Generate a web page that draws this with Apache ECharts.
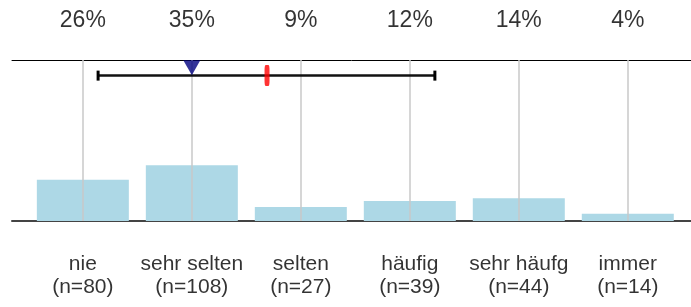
<!DOCTYPE html>
<html>
<head>
<meta charset="utf-8">
<script src="https://cdn.jsdelivr.net/npm/echarts@6/dist/echarts.min.js"></script>
<style>
    html, body { margin: 0; padding: 0; background: #fff; }
    #chart { width: 691px; height: 307px; }
</style>
</head>
<body>
<div id="chart"></div>
<script>
// ---
// data
// ---
var categories = ['nie', 'sehr selten', 'selten', 'häufig', 'sehr häufg', 'immer'];
var counts = [80, 108, 27, 39, 44, 14];
var percentLabels = ['26%', '35%', '9%', '12%', '14%', '4%'];
var shares = [25.6, 34.6, 8.7, 12.5, 14.1, 4.5];   // bar heights, % of all answers
var scalePoints = [1, 2, 3, 4, 5, 6];
var median = 2;
var mean = 2.69;
var sdLow = 1.14;
var sdHigh = 4.23;

// height on the 0..100 scale where the whisker / markers sit
var whiskerLevel = 90.3;
var medianLevel = 95.2;

var font = 'Liberation Sans, Arial, sans-serif';

var chart = echarts.init(document.getElementById('chart'));

var barData = scalePoints.map(function (x, i) {
    return [x, shares[i]];
});
var bottomLabels = categories.map(function (c, i) {
    return c + '\n(n=' + counts[i] + ')';
});

chart.setOption({
    animation: false,
    grid: [
        // scale 0.35..6.58, ticks 1..6 sit on the grey lines
        {left: 12, right: 0, top: 60, bottom: 86}
    ],
    xAxis: [
        {
            type: 'value', min: 0.35, max: 6.58,
            axisLine: {show: true, onZero: false, lineStyle: {color: '#444', width: 2}},
            axisTick: {show: false}, axisLabel: {show: false}, splitLine: {show: false}
        },
        {
            type: 'value', position: 'top', min: 0.35, max: 6.58,
            axisLine: {show: true, onZero: false, lineStyle: {color: '#000', width: 1}},
            axisTick: {show: false}, axisLabel: {show: false}, splitLine: {show: false}
        }
    ],
    yAxis: [
        {type: 'value', min: 0, max: 100, show: false}
    ],
    series: [
        {
            type: 'bar',
            barWidth: 92,
            itemStyle: {color: '#add8e6'},
            data: barData,
            markLine: {
                silent: true, symbol: 'none',
                label: {show: false},
                lineStyle: {color: '#c8c8c8', width: 1.5, type: 'solid'},
                data: scalePoints.map(function (x) { return {xAxis: x}; })
            }
        },
        {
            // text rows: percentages above, category + n below
            type: 'scatter', symbolSize: 0, silent: true,
            data: scalePoints.map(function (x) { return [x, 100]; }),
            label: {
                show: true, position: 'top', distance: 28,
                formatter: function (p) { return percentLabels[p.dataIndex]; },
                color: '#000', fontFamily: font, fontSize: 23
            }
        },
        {
            type: 'scatter', symbolSize: 0, silent: true,
            data: scalePoints.map(function (x) { return [x, 0]; }),
            label: {
                show: true, position: 'bottom', distance: 32,
                formatter: function (p) { return bottomLabels[p.dataIndex]; },
                color: '#000', fontFamily: font, fontSize: 21, lineHeight: 23
            }
        },
        {
            // mean +/- sd
            type: 'line', z: 5,
            symbol: 'rect', symbolSize: [3, 10],
            lineStyle: {color: '#111', width: 2.5},
            itemStyle: {color: '#000'},
            data: [[sdLow, whiskerLevel], [sdHigh, whiskerLevel]]
        },
        {
            // median
            type: 'scatter', z: 6,
            symbol: 'triangle', symbolRotate: 180, symbolSize: [17, 15],
            itemStyle: {color: '#000080'},
            data: [[median, medianLevel]]
        },
        {
            // mean
            type: 'scatter', z: 7,
            symbol: 'roundRect', symbolSize: [5, 21],
            itemStyle: {color: '#ff0000'},
            data: [[mean, whiskerLevel]]
        }
    ]
});
</script>
</body>
</html>
